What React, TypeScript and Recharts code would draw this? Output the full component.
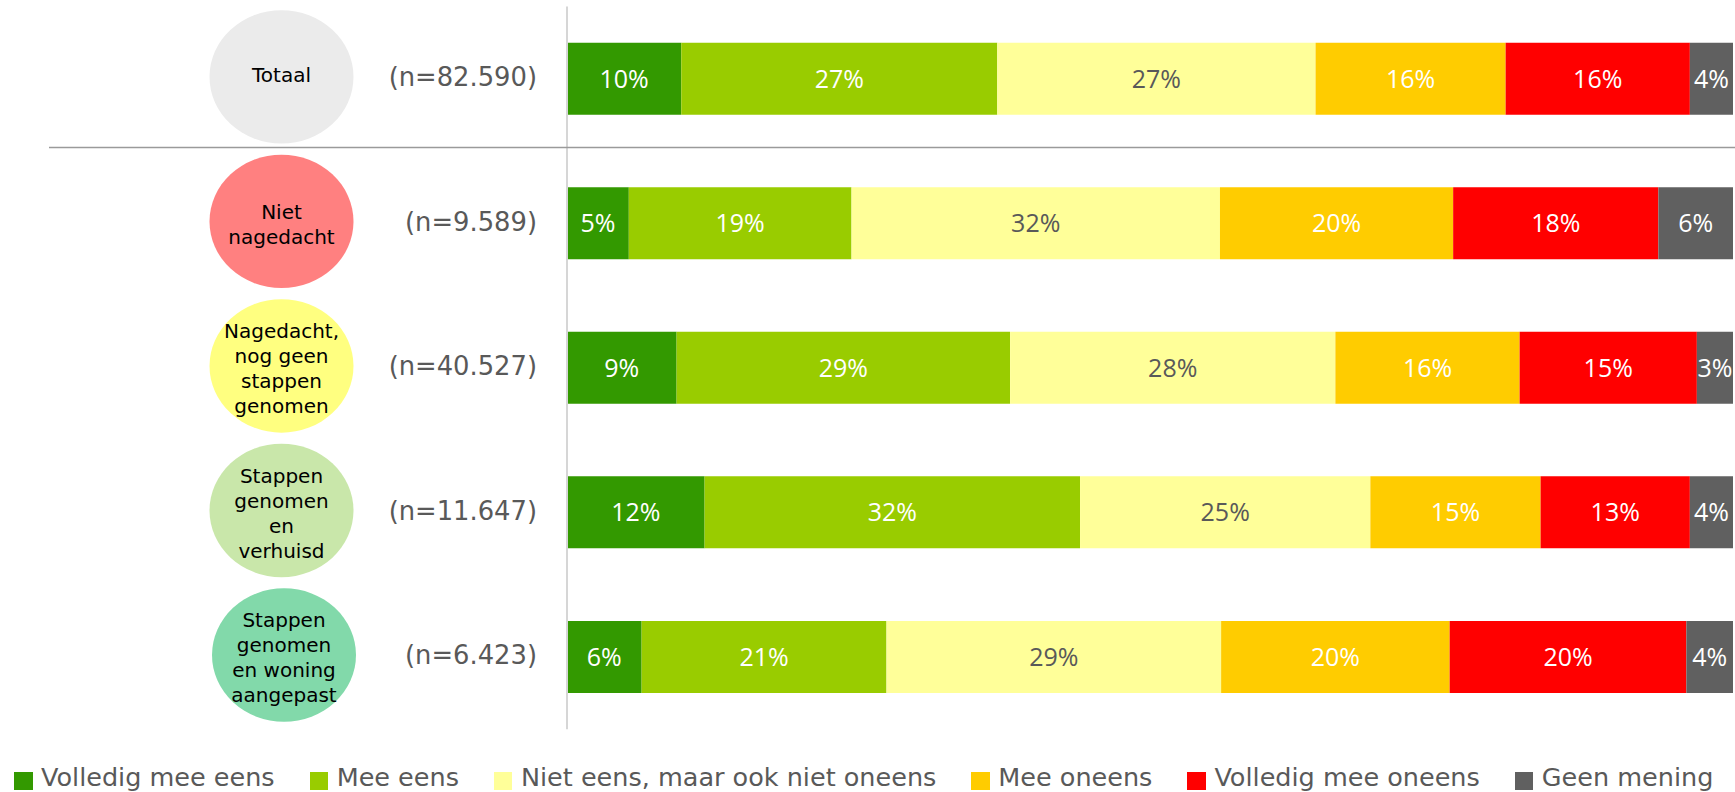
import React from 'react';
import { BarChart, Bar, XAxis, YAxis, LabelList, Legend } from 'recharts';

// Categories (rows)
const categories = [
  'Totaal',
  'Niet nagedacht',
  'Nagedacht, nog geen stappen genomen',
  'Stappen genomen en verhuisd',
  'Stappen genomen en woning aangepast',
];
const categoryLines = [
  ['Totaal'],
  ['Niet', 'nagedacht'],
  ['Nagedacht,', 'nog geen', 'stappen', 'genomen'],
  ['Stappen', 'genomen', 'en', 'verhuisd'],
  ['Stappen', 'genomen', 'en woning', 'aangepast'],
];
const sampleSizes = ['(n=82.590)', '(n=9.589)', '(n=40.527)', '(n=11.647)', '(n=6.423)'];

// Series
const seriesNames = [
  'Volledig mee eens',
  'Mee eens',
  'Niet eens, maar ook niet oneens',
  'Mee oneens',
  'Volledig mee oneens',
  'Geen mening',
];
const volledigMeeEens = [9.8, 5.3, 9.4, 11.8, 6.4];
const meeEens = [27.1, 19.1, 28.6, 32.2, 21.0];
const neutraal = [27.3, 31.6, 27.9, 24.9, 28.7];
const meeOneens = [16.3, 20.0, 15.8, 14.6, 19.6];
const volledigMeeOneens = [15.8, 17.6, 15.2, 12.8, 20.3];
const geenMening = [3.7, 6.4, 3.1, 3.7, 4.0];

const seriesValues = [volledigMeeEens, meeEens, neutraal, meeOneens, volledigMeeOneens, geenMening];
const seriesKeys = ['s0', 's1', 's2', 's3', 's4', 's5'];

const seriesColors = ['#339900', '#99CC00', '#FFFF99', '#FFCC00', '#FF0000', '#606060'];
const labelColors = ['#FFFFFF', '#FFFFFF', '#595959', '#FFFFFF', '#FFFFFF', '#FFFFFF'];
const circleColors = ['#EBEBEB', '#FF8080', '#FFFF80', '#C9E7AA', '#82D9AA'];

const data = categories.map((name, i) => {
  const row: Record<string, any> = { name };
  seriesKeys.forEach((k, j) => {
    row[k] = seriesValues[j][i];
  });
  return row;
});

const CategoryTick = (props: any) => {
  const { y, payload } = props;
  const i = categories.indexOf(payload.value);
  const cy = y - 2;
  const cx = i === categories.length - 1 ? 284 : 281.5;
  const lines = categoryLines[i] || [];
  const n = lines.length;
  const adj = n === 1 ? -2.5 : 2.5;
  return (
    <g>
      {i === 0 && (
        <line x1={49} x2={1735} y1={y + 68.6} y2={y + 68.6} stroke="#9a9a9a" strokeWidth={1.6} />
      )}
      <ellipse cx={cx} cy={cy} rx={72} ry={66.7} fill={circleColors[i]} />
      <text textAnchor="middle" fontFamily="DejaVu Sans" fontSize={20} fill="#000000">
        {lines.map((l, k) => (
          <tspan key={k} x={cx} y={cy + (k - (n - 1) / 2) * 25 + 7.2 + adj}>
            {l}
          </tspan>
        ))}
      </text>
      <text x={537} y={cy + 9.3} textAnchor="end" fontFamily="DejaVu Sans" fontSize={25.8} fill="#595959">
        {sampleSizes[i]}
      </text>
    </g>
  );
};

const LegendContent = (props: any) => {
  const payload = [...(props.payload || [])].sort(
    (a: any, b: any) => seriesNames.indexOf(a.value) - seriesNames.indexOf(b.value)
  );
  return (
    <div
      style={{
        display: 'flex',
        alignItems: 'flex-end',
        paddingLeft: 14,
        fontFamily: 'DejaVu Sans',
        fontSize: 25.5,
        color: '#595959',
        lineHeight: 'normal',
        whiteSpace: 'nowrap',
      }}
    >
      {payload.map((e: any, i: number) => (
        <div key={i} style={{ display: 'flex', alignItems: 'flex-end', marginRight: 35 }}>
          <span
            style={{
              display: 'inline-block',
              width: 18.5,
              height: 18.5,
              background: e.color,
              marginRight: 8.5,
              marginBottom: 1.6,
            }}
          />
          <span>{e.value}</span>
        </div>
      ))}
    </div>
  );
};

export default function App() {
  return (
    <div style={{ position: 'absolute', left: 0, top: 0, width: 1735, height: 792, background: '#fff' }}>
      <BarChart
        width={1735}
        height={792}
        data={data}
        layout="vertical"
        margin={{ top: 6.6, right: 2, bottom: 62.7, left: 0 }}
        barCategoryGap="25%"
      >
        <XAxis type="number" domain={[0, 100]} hide />
        <YAxis
          type="category"
          dataKey="name"
          width={567}
          tickLine={false}
          axisLine={{ stroke: '#d6d6d6', strokeWidth: 2 }}
          tick={<CategoryTick />}
          interval={0}
        />
        <Legend
          layout="horizontal"
          verticalAlign="middle"
          align="center"
          itemSorter={null as any}
          content={<LegendContent />}
          wrapperStyle={{ top: 761.6, left: 0, width: 1735, margin: 0 }}
        />
        {seriesKeys.map((k, j) => (
          <Bar
            key={k}
            dataKey={k}
            name={seriesNames[j]}
            stackId="a"
            fill={seriesColors[j]}
            isAnimationActive={false}
          >
            <LabelList
              dataKey={k}
              position="center"
              fill={labelColors[j]}
              fontFamily="Open Sans"
              fontSize={25}
              formatter={(v: any) => `${Math.round(Number(v))}%`}
            />
          </Bar>
        ))}
      </BarChart>
    </div>
  );
}
